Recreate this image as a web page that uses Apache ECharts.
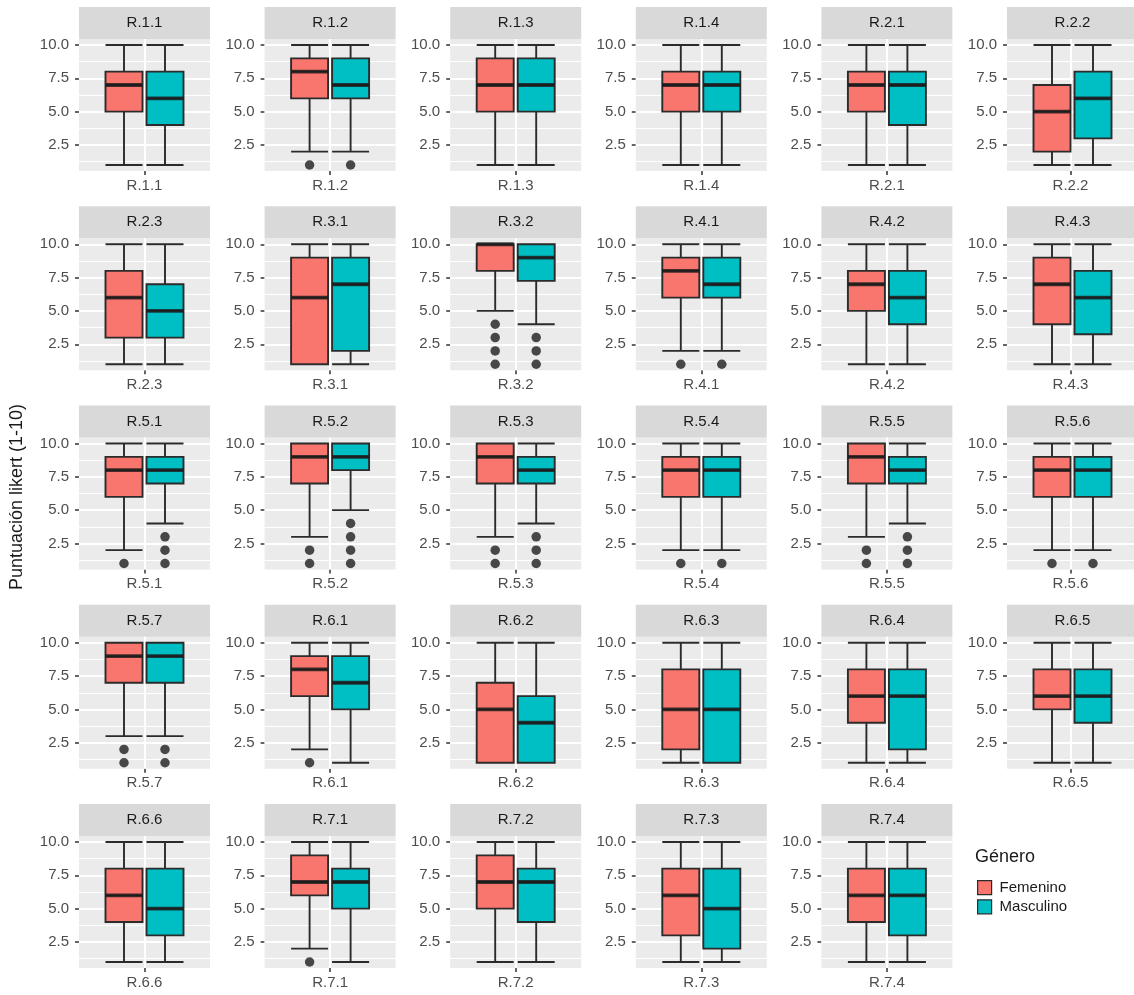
<!DOCTYPE html>
<html>
<head>
<meta charset="utf-8">
<script src="https://cdn.jsdelivr.net/npm/echarts@6/dist/echarts.min.js"></script>
<style>
html,body{margin:0;padding:0;background:#fff}
#chart{width:1134px;height:995px}
</style>
</head>
<body>
<div id="chart"></div>
<script>
// preguntas (paneles)
var items = ['R.1.1','R.1.2','R.1.3','R.1.4','R.2.1','R.2.2','R.2.3','R.3.1','R.3.2','R.4.1','R.4.2','R.4.3',
    'R.5.1','R.5.2','R.5.3','R.5.4','R.5.5','R.5.6','R.5.7','R.6.1','R.6.2','R.6.3','R.6.4','R.6.5','R.6.6',
    'R.7.1','R.7.2','R.7.3','R.7.4'];
var generos = ['Femenino','Masculino'];
// [min, Q1, mediana, Q3, max]
var femStats = [
    [1,5,7,8,10],[2,6,8,9,10],[1,5,7,9,10],[1,5,7,8,10],[1,5,7,8,10],[1,2,5,7,10],[1,3,6,8,10],
    [1,1,6,9,10],[5,8,10,10,10],[2,6,8,9,10],[1,5,7,8,10],[1,4,7,9,10],
    [2,6,8,9,10],[3,7,9,10,10],[3,7,9,10,10],[2,6,8,9,10],[3,7,9,10,10],[2,6,8,9,10],[3,7,9,10,10],
    [2,6,8,9,10],[1,1,5,7,10],[1,2,5,8,10],[1,4,6,8,10],[1,5,6,8,10],[1,4,6,8,10],
    [2,6,7,9,10],[1,5,7,9,10],[1,3,6,8,10],[1,4,6,8,10]
];
var mascStats = [
    [1,4,6,8,10],[2,6,7,9,10],[1,5,7,9,10],[1,5,7,8,10],[1,4,7,8,10],[1,3,6,8,10],[1,3,5,7,10],
    [1,2,7,9,10],[4,7.25,9,10,10],[2,6,7,9,10],[1,4,6,8,10],[1,3.25,6,8,10],
    [4,7,8,9,10],[5,8,9,10,10],[4,7,8,9,10],[2,6,8,9,10],[4,7,8,9,10],[2,6,8,9,10],[3,7,9,10,10],
    [1,5,7,9,10],[1,1,4,6,10],[1,1,5,8,10],[1,2,6,8,10],[1,4,6,8,10],[1,3,5,8,10],
    [1,5,7,8,10],[1,4,7,8,10],[1,2,5,8,10],[1,3,6,8,10]
];
var femOutliers = [
    [],[1],[],[],[],[],[],
    [],[1,2,3,4],[1],[],[],
    [1],[1,2],[1,2],[1],[1,2],[1],[1,2],
    [1],[],[],[],[],[],
    [1],[],[],[]
];
var mascOutliers = [
    [],[1],[],[],[],[],[],
    [],[1,2,3],[1],[],[],
    [1,2,3],[1,2,3,4],[1,2,3],[1],[1,2,3],[1],[1,2],
    [],[],[],[],[],[],
    [],[],[],[]
];
var yTicks = [2.5, 5, 7.5, 10];
var yMinor = [1.25, 3.75, 6.25, 8.75];
var yMin = 0.55, yMax = 10.45;

var colores = ['#F8766D', '#00BFC4'];
var statsBy = [femStats, mascStats];
var outBy = [femOutliers, mascOutliers];

var left0 = 79, colStep = 185.6, panelW = 131;
var top0 = 39, rowStep = 199.25, panelH = 132, stripH = 32;
var font = 'Liberation Sans, Arial, sans-serif';

var grids = [], xAxes = [], yAxes = [], series = [], graphics = [];

items.forEach(function(name, i){
    var r = Math.floor(i / 6), c = i % 6;
    var left = left0 + c * colStep, top = top0 + r * rowStep;

    // panel de fondo con ejes
    var g = grids.length;
    grids.push({left: left, top: top, width: panelW, height: panelH, show: true,
        backgroundColor: '#EBEBEB', borderWidth: 0});
    xAxes.push({gridIndex: g, type: 'category', data: [name],
        axisLine: {show: false},
        axisTick: {show: true, alignWithLabel: true, length: 4, lineStyle: {color: '#333', width: 1.5}},
        axisLabel: {margin: 7, fontSize: 15, color: '#4D4D4D', fontFamily: font},
        splitLine: {show: false}});
    yAxes.push({gridIndex: g, type: 'value', min: yMin, max: yMax,
        axisLine: {show: false},
        axisTick: {show: true, length: 4, customValues: yTicks, lineStyle: {color: '#333', width: 1.5}},
        axisLabel: {customValues: yTicks, margin: 10, fontSize: 15, color: '#4D4D4D', fontFamily: font,
            formatter: function(v){ return v.toFixed(1); }},
        splitLine: {show: false}});
    var lineas = yMinor.map(function(v){ return {yAxis: v, lineStyle: {width: 1}}; })
        .concat(yTicks.map(function(v){ return {yAxis: v, lineStyle: {width: 2}}; }))
        .concat([{xAxis: name, lineStyle: {width: 2}}]);
    series.push({type: 'line', xAxisIndex: g, yAxisIndex: g, data: [], silent: true,
        markLine: {silent: true, symbol: 'none', z: 1, animation: false,
            label: {show: false}, lineStyle: {color: '#FFFFFF', type: 'solid'},
            emphasis: {disabled: true}, data: lineas}});

    // cabecera del panel
    graphics.push({type: 'rect', left: left, top: top - stripH, silent: true,
        shape: {width: panelW, height: stripH}, style: {fill: '#D9D9D9'}});
    graphics.push({type: 'text', x: left + panelW / 2, y: top - stripH / 2, silent: true,
        style: {text: name, fill: '#1A1A1A', font: '15px ' + font, align: 'center', verticalAlign: 'middle'}});

    // una caja por género
    generos.forEach(function(gen, k){
        var bg = grids.length;
        grids.push({left: left + 24.5 + k * 41, top: top, width: 41, height: panelH, show: false});
        xAxes.push({gridIndex: bg, type: 'category', data: [name], show: false});
        yAxes.push({gridIndex: bg, type: 'value', min: yMin, max: yMax, show: false});
        var st = statsBy[k][i];
        series.push({name: gen, type: 'boxplot', xAxisIndex: bg, yAxisIndex: bg,
            boxWidth: [37, 37], z: 2,
            itemStyle: {color: colores[k], borderColor: '#2B2B2B', borderWidth: 1.9},
            data: [st]});
        series.push({name: gen + ' mediana', type: 'scatter', xAxisIndex: bg, yAxisIndex: bg, z: 3,
            symbol: 'rect', symbolSize: [37, 3.8], itemStyle: {color: '#1A1A1A'},
            data: [[0, st[2]]]});
        var outs = outBy[k][i];
        if (outs.length) {
            series.push({name: gen + ' atípicos', type: 'scatter', xAxisIndex: bg, yAxisIndex: bg, z: 3,
                symbolSize: 9.5, itemStyle: {color: '#1E1E1E'},
                data: outs.map(function(v){ return [0, v]; })});
        }
    });
});

graphics.push({type: 'text', x: 17, y: 497, rotation: Math.PI / 2, silent: true,
    style: {text: 'Puntuación likert (1-10)', fill: '#1A1A1A', font: '18px ' + font,
        align: 'center', verticalAlign: 'middle'}});

var chart = echarts.init(document.getElementById('chart'));
chart.setOption({
    animation: false,
    textStyle: {fontFamily: font},
    title: {text: 'Género', left: 975, top: 848, padding: 0,
        textStyle: {fontSize: 18, fontWeight: 'normal', color: '#1A1A1A', fontFamily: font}},
    legend: {orient: 'vertical', left: 977, top: 880, padding: 0, itemGap: 4,
        itemWidth: 14, itemHeight: 14, selectedMode: false,
        textStyle: {fontSize: 15, color: '#1A1A1A', fontFamily: font, padding: [0, 0, 0, 3]},
        data: generos.map(function(gen, k){
            return {name: gen, icon: 'rect',
                itemStyle: {color: colores[k], borderColor: '#2B2B2B', borderWidth: 1.2}};
        })},
    grid: grids,
    xAxis: xAxes,
    yAxis: yAxes,
    series: series,
    graphic: graphics
});
</script>
</body>
</html>
